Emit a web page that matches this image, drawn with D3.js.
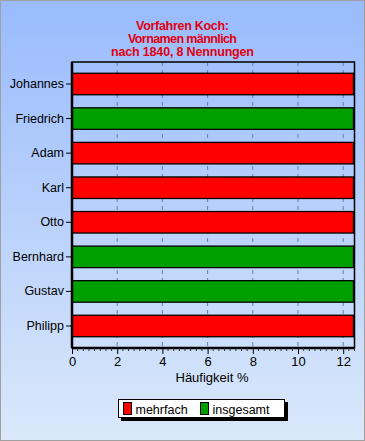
<!DOCTYPE html>
<html><head><meta charset="utf-8">
<script src="https://cdn.jsdelivr.net/npm/d3@7"></script>
<style>html,body{margin:0;padding:0;background:#fff}svg{display:block}</style>
</head><body>
<script>
const names = ["Johannes","Friedrich","Adam","Karl","Otto","Bernhard","Gustav","Philipp"];
const values = [12.5,12.5,12.5,12.5,12.5,12.5,12.5,12.5];
const series = ["mehrfach","insgesamt","mehrfach","mehrfach","mehrfach","insgesamt","insgesamt","mehrfach"];
const legendLabels = ["mehrfach","insgesamt"];
const legendColors = ["#ff0000","#009f00"];
const titleLines = ["Vorfahren Koch:","Vornamen männlich","nach 1840, 8 Nennungen"];
const xTicks = [0,2,4,6,8,10,12];
const xTitle = "Häufigkeit %";

const W=365,H=441;
const svg=d3.select("body").append("svg").attr("width",W).attr("height",H);
const defs=svg.append("defs");
const g1=defs.append("linearGradient").attr("id","bg").attr("x1",0).attr("y1",0).attr("x2",0).attr("y2",1);
g1.append("stop").attr("offset",0).attr("stop-color","#99bbfd");
g1.append("stop").attr("offset",1).attr("stop-color","#dae8fa");
svg.append("rect").attr("x",0.5).attr("y",0.5).attr("width",W-1).attr("height",H-1)
  .attr("fill","url(#bg)").attr("stroke","#a0a0a0");

const font="'Liberation Sans', Arial, sans-serif";
const titleWidths=[93,109,143];
svg.append("g").selectAll("text").data(titleLines).join("text")
  .attr("x",182.5).attr("y",(d,i)=>29.7+i*13).attr("text-anchor","middle")
  .attr("font-family",font).attr("font-weight","bold").attr("font-size",12.5)
  .attr("textLength",(d,i)=>titleWidths[i]).attr("lengthAdjust","spacing")
  .attr("fill","#e00010").text(d=>d);

const L=72,R=354.5,T=62,B=348;
const x=d3.scaleLinear().domain([0,12.5]).range([L,R]);
const y=d3.scaleBand().domain(names).range([T,B]).paddingInner(0.378).paddingOuter(0.3255);
const color=d3.scaleOrdinal().domain(legendLabels).range(legendColors);

// grid
svg.append("g").selectAll("line").data(xTicks.filter(d=>d>0)).join("line")
  .attr("x1",d=>x(d)).attr("x2",d=>x(d)).attr("y1",T).attr("y2",B)
  .attr("stroke","#6a7fa0").attr("stroke-dasharray","4,4");

// bars
svg.append("g").selectAll("rect").data(names).join("rect")
  .attr("x",x(0)).attr("y",d=>y(d)).attr("width",(d,i)=>x(values[i])-x(0)-1)
  .attr("height",y.bandwidth()).attr("fill",(d,i)=>color(series[i]))
  .attr("stroke","#000").attr("stroke-width",1.3);

// frame
svg.append("rect").attr("x",L).attr("y",T).attr("width",R-L).attr("height",B-T)
  .attr("fill","none").attr("stroke","#000").attr("stroke-width",1.5);
svg.append("line").attr("x1",L).attr("x2",L).attr("y1",T).attr("y2",B).attr("stroke","#000").attr("stroke-width",2.5);
svg.append("line").attr("x1",L).attr("x2",R).attr("y1",B).attr("y2",B).attr("stroke","#000").attr("stroke-width",2.5);

// minor ticks
const minor=d3.range(0,12.51,0.25).filter(v=>Math.abs(v/2-Math.round(v/2))>1e-6);
svg.append("g").selectAll("line").data(minor).join("line")
  .attr("x1",d=>x(d)).attr("x2",d=>x(d)).attr("y1",B).attr("y2",B+3).attr("stroke","#303030");

// x axis
const xa=svg.append("g").attr("transform",`translate(0,${B})`)
  .call(d3.axisBottom(x).tickValues(xTicks).tickSize(6).tickSizeOuter(0).tickPadding(3));
xa.select(".domain").remove();
xa.selectAll("text").attr("font-family",font).attr("font-size",13).attr("fill","#000");
xa.selectAll("line").attr("stroke","#000");
svg.append("text").attr("x",212).attr("y",382).attr("text-anchor","middle")
  .attr("font-family",font).attr("font-size",13).attr("fill","#000").text(xTitle);

// y axis
const ya=svg.append("g").attr("transform",`translate(${L},0)`)
  .call(d3.axisLeft(y).tickSize(6).tickSizeOuter(0).tickPadding(2));
ya.select(".domain").remove();
ya.selectAll("text").attr("font-family",font).attr("font-size",12.5).attr("fill","#000");
ya.selectAll("line").attr("stroke","#000");

// legend
const lg=svg.append("g");
lg.append("rect").attr("x",121).attr("y",402).attr("width",167).attr("height",19).attr("fill","#000");
lg.append("rect").attr("x",118.5).attr("y",399.5).attr("width",166).attr("height",18).attr("fill","#fff").attr("stroke","#000");
const lx=[123,200];
const items=lg.selectAll("g.it").data(legendLabels).join("g").attr("class","it");
items.append("rect").attr("x",(d,i)=>lx[i]+0.5).attr("y",402.5).attr("width",8).attr("height",12)
  .attr("fill",d=>color(d)).attr("stroke","#000");
items.append("text").attr("x",(d,i)=>lx[i]+12.5).attr("y",413.5)
  .attr("font-family",font).attr("font-size",12.5).attr("fill","#000").text(d=>d);
</script>
</body></html>
